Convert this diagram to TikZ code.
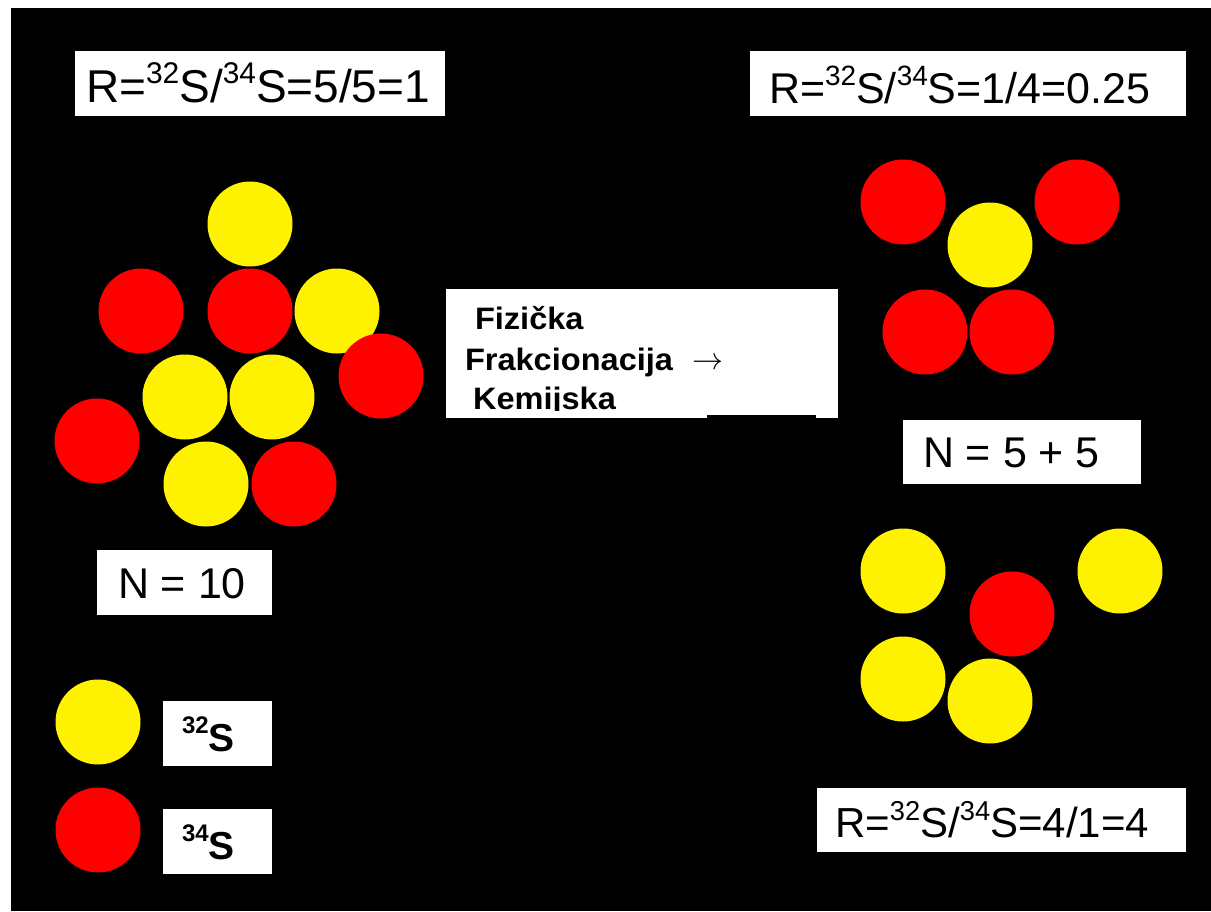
\documentclass[tikz,border=0pt]{standalone}
\usepackage{fontspec}
\setmainfont{Liberation Sans}
\tikzset{
  ball/.style={circle, minimum size=85pt, inner sep=0pt, outer sep=0pt, draw=none},
  s32/.style={ball, fill=yellow},
  s34/.style={ball, fill=red},
  panel/.style={fill=white, draw=none, inner sep=0pt, outer sep=0pt, anchor=north west},
  lbl/.style={anchor=base west, inner sep=0pt, outer sep=0pt, font=\fontsize{43}{48}\selectfont},
  boldlbl/.style={anchor=base west, inner sep=0pt, outer sep=0pt, font=\fontsize{31}{35}\selectfont\bfseries},
  keylbl/.style={anchor=base west, inner sep=0pt, outer sep=0pt, font=\fontsize{39}{43}\selectfont\bfseries},
}
\newcommand\isoup[1]{\raisebox{0.4em}{\scalebox{0.65}{#1}}}
\newcommand\keyup[1]{\raisebox{18pt}{\fontsize{24}{24}\selectfont\bfseries #1}}
\newcommand\wide[1]{\scalebox{1.05}[1]{#1}}
\begin{document}
\begin{tikzpicture}[x=1pt,y=-1pt]
  \useasboundingbox (0,0) rectangle (1211,911);
  % background
  \fill[black] (11,8) rectangle (1211,911);

  % ratio labels
  \node[panel, minimum width=370pt, minimum height=65pt] (pTL) at (75,51) {};
  \node[lbl, font=\fontsize{46}{50}\selectfont] (tTL) at (86,102) {R=\isoup{32}S/\isoup{34}S=5/5=1};
  \node[panel, minimum width=436pt, minimum height=65pt] (pTR) at (750,51) {};
  \node[lbl] (tTR) at (769,103) {R=\isoup{32}S/\isoup{34}S=1/4=0.25};
  \node[panel, minimum width=369pt, minimum height=64pt] (pBR) at (817,788) {};
  \node[lbl, font=\fontsize{42}{46}\selectfont] (tBR) at (835,837) {R=\isoup{32}S/\isoup{34}S=4/1=4};

  % counts
  \node[panel, minimum width=175pt, minimum height=65pt] (pN10) at (97,550) {};
  \node[lbl] (tN10) at (118,598) {N = 10};
  \node[panel, minimum width=238pt, minimum height=64pt] (pN55) at (903,420) {};
  \node[lbl] (tN55) at (923,467) {N = 5 + 5};

  % central process label
  \node[panel, minimum width=392pt, minimum height=129pt] (pMid) at (446,289) {};
  \fill[black] (707,415) rectangle (816,425);
  \begin{scope}
    \clip (446,289) rectangle (838,410.5);
    \node[boldlbl] (tF1) at (475,329) {\wide{Fizička}};
    \node[boldlbl] (tF2) at (465,370) {\wide{Frakcionacija}};
    \node[boldlbl] (tF3) at (473,409) {\wide{Kemijska}};
  \end{scope}
  \node[anchor=base west, inner sep=0pt] (arr) at (692,369) {\resizebox{31pt}{!}{$\rightarrow$}};

  % initial mixture
  \node[s32] (a1) at (250,224) {};
  \node[s34] (a2) at (141,311) {};
  \node[s34] (a3) at (250,311) {};
  \node[s32] (a4) at (337,311) {};
  \node[s34] (a5) at (381,376) {};
  \node[s32] (a6) at (185,397) {};
  \node[s32] (a7) at (272,397) {};
  \node[s34] (a8) at (97,441) {};
  \node[s32] (a9) at (206,484) {};
  \node[s34] (a10) at (294,484) {};

  % product enriched in 34S
  \node[s34] (b1) at (903,202) {};
  \node[s34] (b2) at (1077,202) {};
  \node[s32] (b3) at (990,245) {};
  \node[s34] (b4) at (925,332) {};
  \node[s34] (b5) at (1012,332) {};

  % product enriched in 32S
  \node[s32] (c1) at (903,571) {};
  \node[s32] (c2) at (1120,571) {};
  \node[s34] (c3) at (1012,614) {};
  \node[s32] (c4) at (903,679) {};
  \node[s32] (c5) at (990,701) {};

  % key
  \node[s32] (k1) at (98,722) {};
  \node[panel, minimum width=109pt, minimum height=65pt] (pk1) at (163,701) {};
  \node[keylbl] (tk1) at (182,751) {\keyup{32}S};
  \node[s34] (k2) at (98,830) {};
  \node[panel, minimum width=109pt, minimum height=65pt] (pk2) at (163,809) {};
  \node[keylbl] (tk2) at (182,859) {\keyup{34}S};
\end{tikzpicture}
\end{document}
